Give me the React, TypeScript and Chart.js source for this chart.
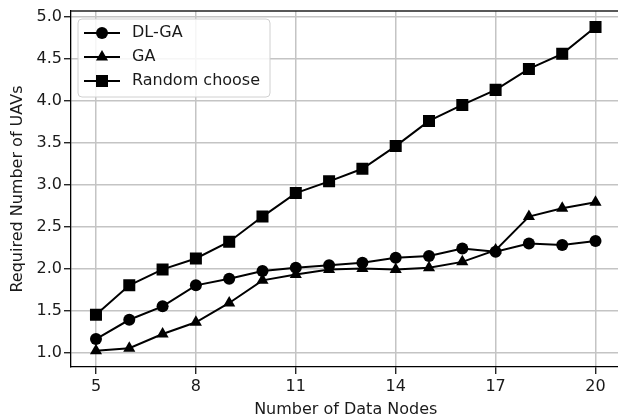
import React, { useEffect, useRef } from "react";
import { Chart, registerables } from "chart.js";

Chart.register(...registerables);

const nodes = [5, 6, 7, 8, 9, 10, 11, 12, 13, 14, 15, 16, 17, 18, 19, 20];
const dlga = [1.16, 1.39, 1.55, 1.80, 1.88, 1.97, 2.01, 2.04, 2.07, 2.13, 2.15, 2.24, 2.20, 2.30, 2.28, 2.33];
const ga = [1.02, 1.05, 1.22, 1.36, 1.59, 1.86, 1.93, 1.99, 2.00, 1.99, 2.01, 2.08, 2.22, 2.62, 2.72, 2.79];
const randomChoose = [1.45, 1.80, 1.99, 2.12, 2.32, 2.62, 2.90, 3.04, 3.19, 3.46, 3.76, 3.95, 4.13, 4.38, 4.56, 4.88];
const seriesLabels = ["DL-GA", "GA", "Random choose"];
const xTicks = [5, 8, 11, 14, 17, 20];
const yTicks = [1.0, 1.5, 2.0, 2.5, 3.0, 3.5, 4.0, 4.5, 5.0];

const FONT = "'DejaVu Sans', sans-serif";
const TEXT = "#1a1a1a";
const FS = 16;

function drawMarker(ctx: CanvasRenderingContext2D, style: string, x: number, y: number) {
  ctx.beginPath();
  if (style === "circle") {
    ctx.arc(x, y, 6, 0, Math.PI * 2);
  } else if (style === "rect") {
    ctx.rect(x - 6, y - 6, 12, 12);
  } else {
    const r = 7;
    ctx.moveTo(x, y - r);
    ctx.lineTo(x + r * Math.sin(Math.PI / 3), y + r * 0.5);
    ctx.lineTo(x - r * Math.sin(Math.PI / 3), y + r * 0.5);
    ctx.closePath();
  }
  ctx.fill();
}

const framePlugin = {
  id: "frameAndLegend",
  afterDraw(chart: any) {
    const { ctx, chartArea } = chart;
    ctx.save();
    ctx.strokeStyle = "#222";
    ctx.lineWidth = 1.3;
    ctx.beginPath();
    ctx.moveTo(chartArea.left, chartArea.top);
    ctx.lineTo(chartArea.right, chartArea.top);
    ctx.stroke();

    const bx = chartArea.left + 7;
    const by = chartArea.top + 8;
    const bw = 192;
    const bh = 78;
    const r = 4;
    ctx.beginPath();
    ctx.moveTo(bx + r, by);
    ctx.lineTo(bx + bw - r, by);
    ctx.quadraticCurveTo(bx + bw, by, bx + bw, by + r);
    ctx.lineTo(bx + bw, by + bh - r);
    ctx.quadraticCurveTo(bx + bw, by + bh, bx + bw - r, by + bh);
    ctx.lineTo(bx + r, by + bh);
    ctx.quadraticCurveTo(bx, by + bh, bx, by + bh - r);
    ctx.lineTo(bx, by + r);
    ctx.quadraticCurveTo(bx, by, bx + r, by);
    ctx.closePath();
    ctx.fillStyle = "rgba(255,255,255,0.85)";
    ctx.fill();
    ctx.strokeStyle = "#d0d0d0";
    ctx.lineWidth = 1;
    ctx.stroke();

    chart.data.datasets.forEach((ds: any, i: number) => {
      const ry = by + 14 + i * 24;
      ctx.strokeStyle = "#000";
      ctx.lineWidth = 2;
      ctx.beginPath();
      ctx.moveTo(bx + 6, ry);
      ctx.lineTo(bx + 42, ry);
      ctx.stroke();
      ctx.fillStyle = "#000";
      drawMarker(ctx, ds.pointStyle, bx + 24, ry);
      ctx.fillStyle = TEXT;
      ctx.font = `${FS}px ${FONT}`;
      ctx.textBaseline = "middle";
      ctx.textAlign = "left";
      ctx.fillText(ds.label, bx + 54, ry);
    });
    ctx.restore();
  },
};

export default function App() {
  const ref = useRef<HTMLCanvasElement>(null);
  useEffect(() => {
    if (!ref.current) return;
    const mk = (vals: number[]) => nodes.map((x, i) => ({ x, y: vals[i] }));
    const styles = ["circle", "triangle", "rect"];
    const radii = [6, 7, 8.5];
    const series = [dlga, ga, randomChoose];
    const chart = new Chart(ref.current, {
      type: "line",
      data: {
        datasets: series.map((s, i) => ({
          label: seriesLabels[i],
          data: mk(s),
          borderColor: "#000",
          backgroundColor: "#000",
          borderWidth: 2,
          pointStyle: styles[i],
          pointRadius: radii[i],
          pointBorderWidth: 0,
          pointBackgroundColor: "#000",
          tension: 0,
        })),
      },
      options: {
        responsive: false,
        animation: false,
        devicePixelRatio: 1,
        layout: { padding: { top: 11, right: 4, left: 0, bottom: 0 } },
        plugins: { legend: { display: false }, tooltip: { enabled: false } },
        scales: {
          x: {
            type: "linear",
            min: 4.25,
            max: 20.75,
            afterBuildTicks: (axis: any) => {
              axis.ticks = xTicks.map((v) => ({ value: v }));
            },
            afterFit: (axis: any) => {
              axis.height = 52;
              axis.paddingLeft = 0;
              axis.paddingRight = 0;
            },
            ticks: {
              color: TEXT,
              font: { family: FONT, size: FS },
              padding: 3,
              maxRotation: 0,
              callback: (v: any) => String(v),
            },
            grid: { color: "#c4c4c4", lineWidth: 1.5, tickColor: "#000", tickLength: 7, tickWidth: 1.2 },
            border: { color: "#000", width: 1.3 },
            title: {
              display: true,
              text: "Number of Data Nodes",
              color: TEXT,
              font: { family: FONT, size: FS },
              padding: { top: 0, bottom: 0 },
            },
          },
          y: {
            type: "linear",
            min: 0.827,
            max: 5.07,
            afterBuildTicks: (axis: any) => {
              axis.ticks = yTicks.map((v) => ({ value: v }));
            },
            afterFit: (axis: any) => {
              axis.width = 71;
              axis.paddingTop = 0;
              axis.paddingBottom = 0;
            },
            ticks: {
              color: TEXT,
              font: { family: FONT, size: FS },
              padding: 2,
              callback: (v: any) => Number(v).toFixed(1),
            },
            grid: { color: "#c4c4c4", lineWidth: 1.5, tickColor: "#000", tickLength: 7, tickWidth: 1.2 },
            border: { color: "#000", width: 1.3 },
            title: {
              display: true,
              text: "Required Number of UAVs",
              color: TEXT,
              font: { family: FONT, size: FS },
              padding: { top: 8, bottom: 0 },
            },
          },
        },
      },
      plugins: [framePlugin],
    } as any);
    return () => chart.destroy();
  }, []);
  return (
    <div style={{ position: "fixed", left: 0, top: 0, width: 618, height: 419, overflow: "hidden", background: "#fff" }}>
      <canvas ref={ref} width={629} height={419} style={{ display: "block", width: 629, height: 419 }} />
    </div>
  );
}
